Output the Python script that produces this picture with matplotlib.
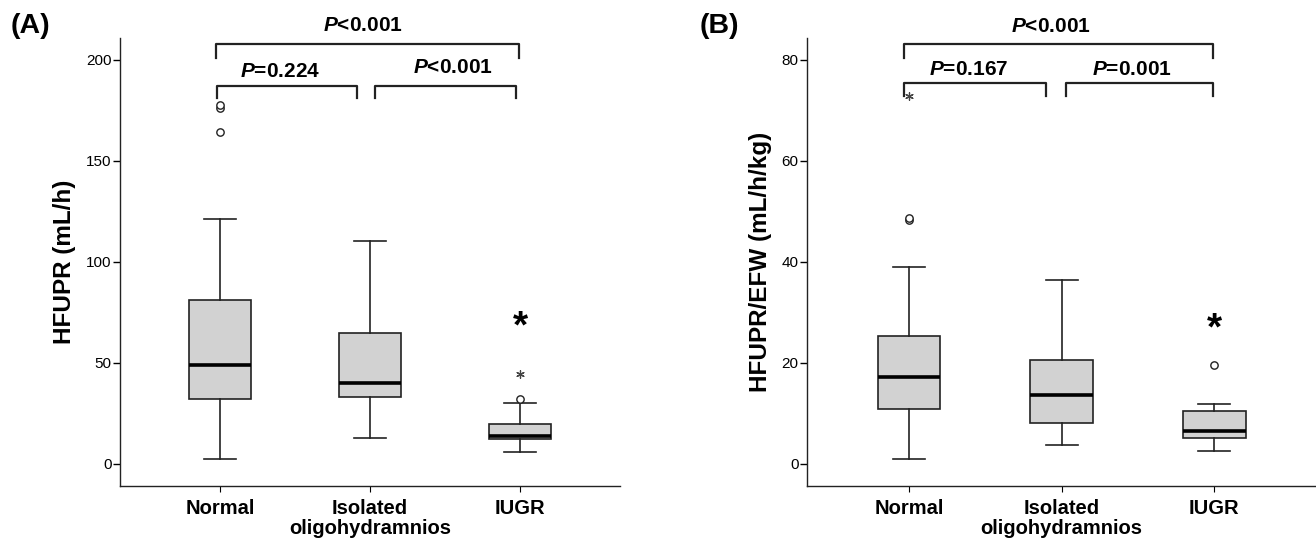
import numpy as np
import matplotlib
matplotlib.use('Agg')
import matplotlib.pyplot as plt

plt.rcParams['font.family'] = ['Liberation Sans', 'DejaVu Sans']
plt.rcParams['mathtext.fontset'] = 'custom'
plt.rcParams['mathtext.it'] = 'Liberation Sans:italic:bold'
plt.rcParams['mathtext.rm'] = 'Liberation Sans:bold'

groups = ['Normal', 'Isolated\noligohydramnios', 'IUGR']

# --- (A) HFUPR (mL/h) ---
a_whislo = [2.5, 13.0, 6.0]
a_q1 = [32.0, 33.0, 12.3]
a_med = [48.7, 40.0, 14.0]
a_q3 = [81.0, 64.5, 19.7]
a_whishi = [121.0, 110.5, 30.0]
a_circ_x = [1, 1, 1, 3]
a_circ_y = [164.0, 176.0, 177.5, 32.0]
a_star_x = [3]
a_star_y = [44.5]

# --- (B) HFUPR/EFW (mL/h/kg) ---
b_whislo = [0.9, 3.7, 2.6]
b_q1 = [10.8, 8.0, 5.1]
b_med = [17.1, 13.6, 6.4]
b_q3 = [25.3, 20.6, 10.4]
b_whishi = [38.9, 36.3, 11.9]
b_circ_x = [1, 1, 3]
b_circ_y = [48.2, 48.7, 19.6]
b_star_x = [1]
b_star_y = [72.8]


def draw_panel(ax, lo, q1, med, q3, hi, cx, cy, sx, sy, sig_y, ylim, yticks,
               ylabel, brackets, pad):
    stats = []
    for i in range(3):
        stats.append(dict(whislo=lo[i], q1=q1[i], med=med[i], q3=q3[i],
                          whishi=hi[i], fliers=[]))
    ax.bxp(stats, positions=[1, 2, 3], widths=0.41, patch_artist=True,
           showfliers=False,
           boxprops=dict(facecolor='#d2d2d2', edgecolor='#222222', linewidth=1.2),
           medianprops=dict(color='black', linewidth=2.6),
           whiskerprops=dict(color='#222222', linewidth=1.2),
           capprops=dict(color='#222222', linewidth=1.2), capwidths=0.21)
    ax.scatter(cx, cy, s=28, facecolors='white', edgecolors='#222222',
               linewidths=1.0, zorder=5)
    ax.scatter(sx, sy, s=30, marker=(6, 2, 0), color='#444444',
               linewidths=0.9, zorder=5)
    ax.text(3, sig_y, '*', fontsize=28, fontweight='bold', ha='center',
            va='center')

    for x0, x1, yb, yt, label, tx, ty in brackets:
        ax.plot([x0, x0, x1, x1], [yt, yb, yb, yt], color='#222222',
                linewidth=1.6, clip_on=False)
        ax.text(tx, ty, label, ha='center', va='center', fontsize=15,
                fontweight='bold', clip_on=False)

    ax.set_xlim(0.333, 3.667)
    ax.set_ylim(*ylim)
    ax.set_yticks(yticks)
    ax.set_xticks([1, 2, 3])
    ax.set_xticklabels(groups, fontsize=14.5, fontweight='bold',
                       linespacing=1.1)
    ax.tick_params(axis='y', labelsize=11, length=5, width=1.0, pad=1)
    ax.tick_params(axis='x', length=4, width=0.8, pad=5)
    ax.set_ylabel(ylabel, fontsize=17.5, fontweight='bold', labelpad=pad)
    ax.spines['top'].set_visible(False)
    ax.spines['right'].set_visible(False)
    for s in ('left', 'bottom'):
        ax.spines[s].set_linewidth(1.0)
        ax.spines[s].set_color('#222222')


fig = plt.figure(figsize=(13.16, 5.42), dpi=100)
axA = fig.add_axes([0.0912, 0.1033, 0.380, 0.8275])
axB = fig.add_axes([0.6132, 0.1033, 0.387, 0.8275])

brackets_a = [
    (0.97, 2.99, 208, 201, '$P$<0.001', 1.95, 217),
    (0.98, 1.91, 187, 181, '$P$=0.224', 1.40, 194),
    (2.03, 2.97, 187, 181, '$P$<0.001', 2.55, 196),
]
brackets_b = [
    (0.97, 2.99, 83.2, 80.4, '$P$<0.001', 1.93, 86.6),
    (0.97, 1.90, 75.4, 72.8, '$P$=0.167', 1.39, 78.1),
    (2.03, 2.99, 75.4, 72.8, '$P$=0.001', 2.46, 78.1),
]

draw_panel(axA, a_whislo, a_q1, a_med, a_q3, a_whishi, a_circ_x, a_circ_y,
           a_star_x, a_star_y, 67.5, (-11, 211), [0, 50, 100, 150, 200],
           'HFUPR (mL/h)', brackets_a, 7)
draw_panel(axB, b_whislo, b_q1, b_med, b_q3, b_whishi, b_circ_x, b_circ_y,
           b_star_x, b_star_y, 26.6, (-4.4, 84.4), [0, 20, 40, 60, 80],
           'HFUPR/EFW (mL/h/kg)', brackets_b, 7)

fig.text(0.008, 0.952, '(A)', fontsize=20.5, fontweight='bold', va='center')
fig.text(0.532, 0.952, '(B)', fontsize=20.5, fontweight='bold', va='center')

fig.savefig('out.png', dpi=100)
